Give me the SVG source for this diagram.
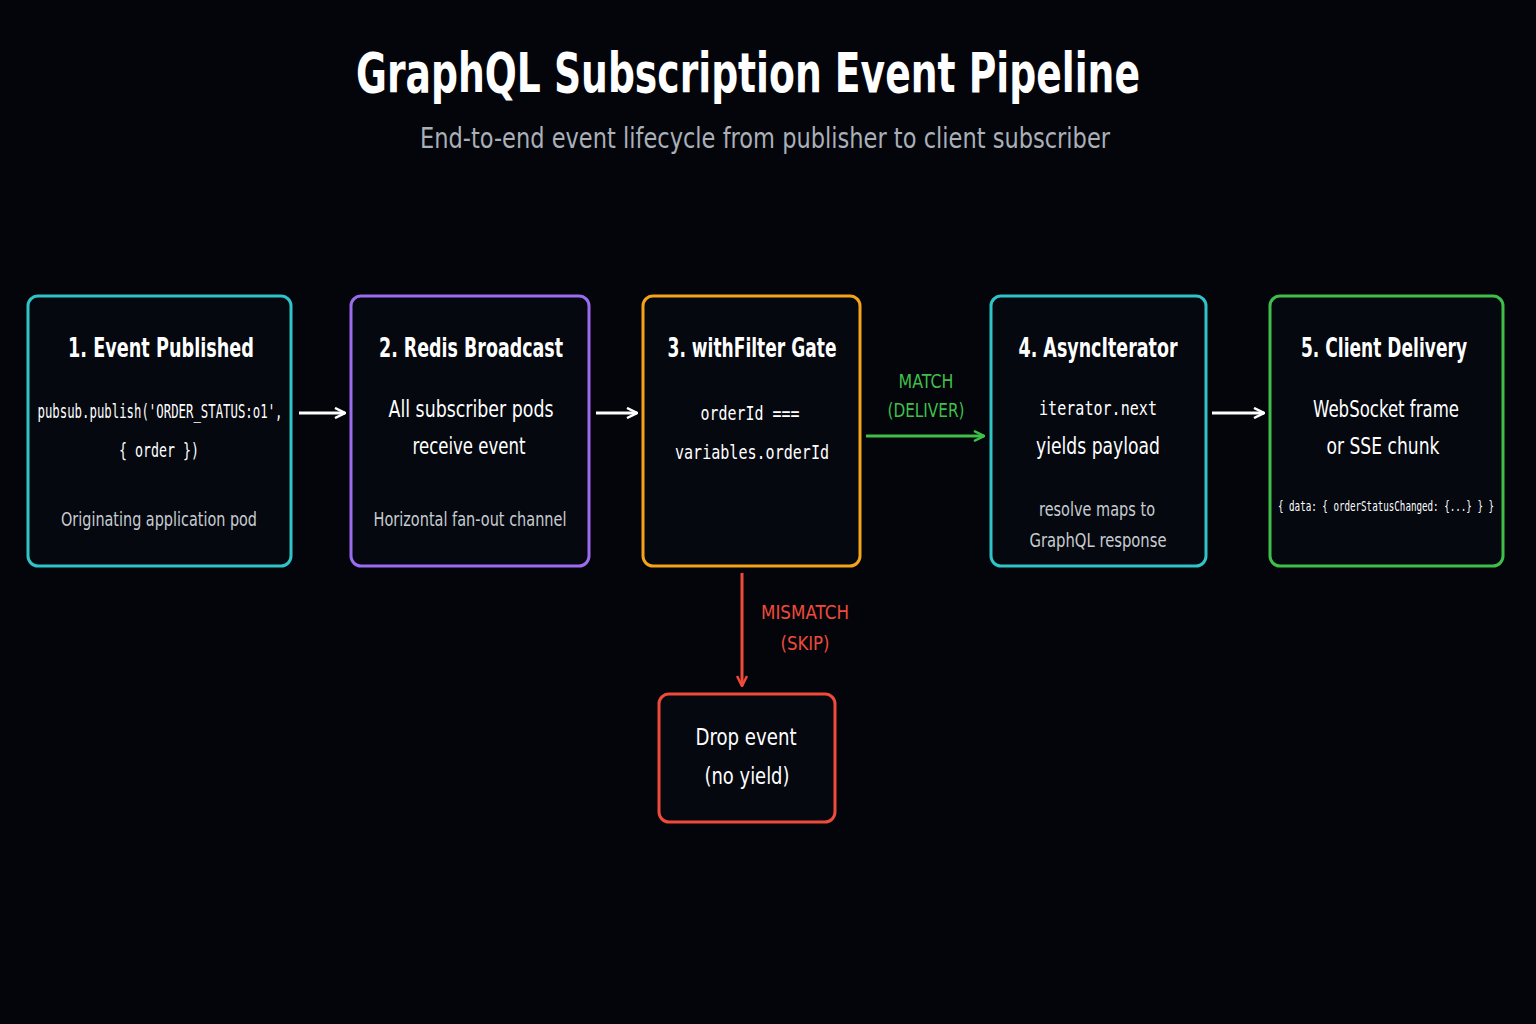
<svg xmlns="http://www.w3.org/2000/svg" width="1536" height="1024" viewBox="0 0 1536 1024">
<style>
.t{font-family:"DejaVu Sans","Liberation Sans",sans-serif;fill:#fff;text-anchor:middle}
.h{font-size:27px;font-weight:bold}
.b{font-size:23px}
.m{font-family:"DejaVu Sans Mono",monospace;font-size:19px;fill:#fff;text-anchor:middle}
.g{font-size:20px;fill:#c8ccd2}
.box{fill:#05080f;stroke-width:3}
.c{fill:none;stroke-width:3}
</style>
<defs>
<marker id="aw" viewBox="0 0 12 12" refX="11" refY="6" markerWidth="12" markerHeight="12" markerUnits="userSpaceOnUse" orient="auto"><path d="M1 1L11 6L1 11" fill="none" stroke="#fff" stroke-width="2.5"/></marker>
<marker id="ag" viewBox="0 0 12 12" refX="11" refY="6" markerWidth="12" markerHeight="12" markerUnits="userSpaceOnUse" orient="auto"><path d="M1 1L11 6L1 11" fill="none" stroke="#3fbf4a" stroke-width="2.5"/></marker>
<marker id="ar" viewBox="0 0 12 12" refX="11" refY="6" markerWidth="12" markerHeight="12" markerUnits="userSpaceOnUse" orient="auto"><path d="M1 1L11 6L1 11" fill="none" stroke="#f04a3a" stroke-width="2.5"/></marker>
</defs>
<rect width="1536" height="1024" fill="#03050b"/>
<text class="t" x="748" y="92" style="font-size:56px;font-weight:bold" textLength="784" lengthAdjust="spacingAndGlyphs">GraphQL Subscription Event Pipeline</text>
<text class="t" x="765" y="148" style="font-size:29px;fill:#aab0b8" textLength="690" lengthAdjust="spacingAndGlyphs">End-to-end event lifecycle from publisher to client subscriber</text>

<g id="n1"><rect class="box" x="28" y="296" width="263" height="270" rx="10" stroke="#2ec4c8"/>
<text class="t h" x="161" y="357" textLength="186" lengthAdjust="spacingAndGlyphs">1. Event Published</text>
<text class="m" x="160" y="418" textLength="245" lengthAdjust="spacingAndGlyphs">pubsub.publish('ORDER_STATUS:o1',</text>
<text class="m" x="159" y="457" textLength="80" lengthAdjust="spacingAndGlyphs">{ order })</text>
<text class="t g" x="159" y="526" textLength="196" lengthAdjust="spacingAndGlyphs">Originating application pod</text></g>

<g id="n2"><rect class="box" x="351" y="296" width="238" height="270" rx="10" stroke="#9b6cf0"/>
<text class="t h" x="471" y="357" textLength="184" lengthAdjust="spacingAndGlyphs">2. Redis Broadcast</text>
<text class="t b" x="471" y="417" textLength="165" lengthAdjust="spacingAndGlyphs">All subscriber pods</text>
<text class="t b" x="469" y="454" textLength="113" lengthAdjust="spacingAndGlyphs">receive event</text>
<text class="t g" x="470" y="526" textLength="193" lengthAdjust="spacingAndGlyphs">Horizontal fan-out channel</text></g>

<g id="n3"><rect class="box" x="643" y="296" width="217" height="270" rx="10" stroke="#f5a318"/>
<text class="t h" x="752" y="357" textLength="169" lengthAdjust="spacingAndGlyphs">3. withFilter Gate</text>
<text class="m" x="750" y="420" textLength="99" lengthAdjust="spacingAndGlyphs">orderId ===</text>
<text class="m" x="752" y="459" textLength="154" lengthAdjust="spacingAndGlyphs">variables.orderId</text></g>

<g id="n4"><rect class="box" x="991" y="296" width="215" height="270" rx="10" stroke="#2ec4c8"/>
<text class="t h" x="1098" y="357" textLength="159" lengthAdjust="spacingAndGlyphs">4. AsyncIterator</text>
<text class="m" x="1098" y="415" textLength="118" lengthAdjust="spacingAndGlyphs">iterator.next</text>
<text class="t b" x="1098" y="454" textLength="124" lengthAdjust="spacingAndGlyphs">yields payload</text>
<text class="t g" x="1097" y="516" textLength="116" lengthAdjust="spacingAndGlyphs">resolve maps to</text>
<text class="t g" x="1098" y="547" textLength="137" lengthAdjust="spacingAndGlyphs">GraphQL response</text></g>

<g id="n5"><rect class="box" x="1270" y="296" width="233" height="270" rx="10" stroke="#3fbf4a"/>
<text class="t h" x="1384" y="357" textLength="166" lengthAdjust="spacingAndGlyphs">5. Client Delivery</text>
<text class="t b" x="1386" y="417" textLength="146" lengthAdjust="spacingAndGlyphs">WebSocket frame</text>
<text class="t b" x="1383" y="454" textLength="113" lengthAdjust="spacingAndGlyphs">or SSE chunk</text>
<text class="m" x="1386" y="511" style="font-size:14px" textLength="216" lengthAdjust="spacingAndGlyphs">{ data: { orderStatusChanged: {...} } }</text></g>

<g id="n6"><rect class="box" x="659" y="694" width="176" height="128" rx="10" stroke="#f04a3a"/>
<text class="t b" x="746" y="745" textLength="101" lengthAdjust="spacingAndGlyphs">Drop event</text>
<text class="t b" x="747" y="784" textLength="85" lengthAdjust="spacingAndGlyphs">(no yield)</text></g>

<g id="connectors">
<line class="c" x1="299" y1="413" x2="345" y2="413" stroke="#fff" marker-end="url(#aw)"/>
<line class="c" x1="596" y1="413" x2="637" y2="413" stroke="#fff" marker-end="url(#aw)"/>
<line class="c" x1="866" y1="436" x2="984" y2="436" stroke="#3fbf4a" marker-end="url(#ag)"/>
<line class="c" x1="1212" y1="413" x2="1264" y2="413" stroke="#fff" marker-end="url(#aw)"/>
<line class="c" x1="742" y1="573" x2="742" y2="686" stroke="#f04a3a" marker-end="url(#ar)"/>
<text class="t" x="926" y="388" style="font-size:20px;fill:#3fbf4a" textLength="55" lengthAdjust="spacingAndGlyphs">MATCH</text>
<text class="t" x="926" y="417" style="font-size:20px;fill:#3fbf4a" textLength="77" lengthAdjust="spacingAndGlyphs">(DELIVER)</text>
<text class="t" x="805" y="619" style="font-size:20px;fill:#f04a3a" textLength="88" lengthAdjust="spacingAndGlyphs">MISMATCH</text>
<text class="t" x="805" y="650" style="font-size:20px;fill:#f04a3a" textLength="49" lengthAdjust="spacingAndGlyphs">(SKIP)</text>
</g>
</svg>
